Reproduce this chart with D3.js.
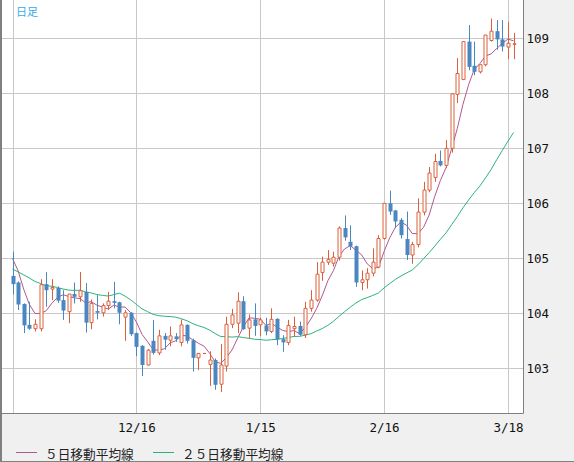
<!DOCTYPE html>
<html><head><meta charset="utf-8">
<script src="https://cdn.jsdelivr.net/npm/d3@7"></script>
<style>body{margin:0;background:#f0f0f0}svg{display:block}</style>
</head><body><svg id="c" width="574" height="462"></svg>
<script>
// Daily OHLC (2020-11-16 .. 2021-03-19, weekdays)
const openV  = [104.68,104.56,104.17,103.79,103.72,103.72,104.53,104.44,104.46,104.24,
                104.03,104.35,104.30,104.39,103.83,104.04,104.01,104.14,104.22,104.20,
                103.93,104.01,103.64,103.41,103.06,103.50,103.28,103.59,103.51,103.58,
                103.47,103.79,103.51,103.19,103.27,103.07,103.15,102.71,103.04,103.80,
                103.82,104.22,103.73,103.89,103.79,103.78,103.67,103.90,103.53,103.47,
                103.72,103.77,103.61,104.09,104.24,104.74,104.93,104.91,105.02,105.55,
                105.30,105.22,104.56,104.61,104.73,104.84,105.36,106.00,105.87,105.70,
                105.35,105.06,105.25,105.84,106.24,106.47,106.77,106.69,107.00,107.98,
                108.25,108.94,108.50,108.39,108.52,108.96,109.13,108.98,108.84,108.89];
const highV  = [105.12,104.58,104.18,104.21,103.89,104.62,104.75,104.62,104.49,104.42,
                104.35,104.56,104.75,104.55,104.25,104.33,104.18,104.39,104.57,104.21,
                104.06,104.02,103.65,103.42,103.35,103.88,103.70,103.64,103.76,103.64,
                103.89,103.80,103.54,103.28,103.27,103.31,103.18,103.44,103.94,104.08,
                104.38,104.31,103.98,104.18,103.92,103.92,104.09,103.91,103.60,103.88,
                103.94,103.85,104.21,104.42,104.93,105.03,105.15,105.12,105.58,105.78,
                105.60,105.23,104.78,104.82,105.18,105.42,106.00,106.23,105.88,105.73,
                105.85,105.30,106.09,106.39,106.66,106.90,106.96,107.15,108.00,108.64,
                108.94,109.24,108.94,108.52,109.06,109.36,109.33,109.33,109.30,109.10];
const lowV   = [104.34,104.06,103.64,103.70,103.67,103.67,104.12,104.24,104.19,103.88,
                103.82,104.18,104.21,103.65,103.71,103.89,103.94,104.06,104.09,103.80,
                103.50,103.59,103.22,102.86,103.05,103.25,103.24,103.34,103.40,103.48,
                103.40,103.45,102.94,102.97,103.27,102.68,102.61,102.57,102.94,103.73,
                103.64,103.70,103.54,103.59,103.59,103.60,103.64,103.42,103.30,103.42,
                103.58,103.59,103.55,104.03,104.21,104.59,104.88,104.85,104.96,105.32,
                105.15,104.48,104.42,104.45,104.67,104.82,105.34,105.79,105.55,105.36,
                104.97,104.90,105.20,105.78,106.20,106.39,106.67,106.64,106.92,107.82,
                108.24,108.42,108.33,108.36,108.49,108.94,108.79,108.76,108.62,108.62];
const closeV = [104.53,104.16,103.78,103.72,103.80,104.52,104.42,104.47,104.23,104.05,
                104.35,104.30,104.41,103.83,104.18,104.01,104.14,104.22,104.19,104.01,
                104.01,103.62,103.39,103.06,103.33,103.28,103.59,103.52,103.59,103.53,
                103.79,103.50,103.19,103.27,103.27,103.15,102.70,103.06,103.80,103.97,
                104.22,103.71,103.88,103.77,103.88,103.67,103.89,103.53,103.47,103.78,
                103.76,103.61,104.09,104.24,104.71,104.93,104.98,105.02,105.55,105.38,
                105.22,104.56,104.61,104.73,104.93,105.36,106.00,105.85,105.67,105.42,
                105.06,105.25,105.84,106.24,106.55,106.76,106.69,107.00,107.99,108.36,
                108.94,108.48,108.39,108.52,109.06,109.13,108.98,108.85,108.91,108.90];
// closes before the first visible candle (estimated from the moving-average lines)
const priorCloses = [105.47,105.14,105.12,105.39,105.43,105.53,104.56,104.88,104.71,104.85,
                     104.43,104.30,104.62,104.66,104.73,104.51,104.53,103.52,103.37,105.37,
                     105.30,105.45,105.10,104.61];
const tickIdx = [0, 22, 44, 66, 88];
const tickLabels = ["", "12/16", "1/15", "2/16", "3/18"];
const yTicks = [103, 104, 105, 106, 107, 108, 109];
const maPeriods = [5, 25];
const maNames = ["５日移動平均線", "２５日移動平均線"];
const titleText = "日足";

const W = 574, H = 462;
const plot = {l: 2, r: 523.5, t: 0, b: 413.5};
const upColor = "#d9603b", downColor = "#4a87c1";
const maColors = ["#b4578c", "#2bb37a"];

const svg = d3.select("#c");
svg.append("rect").attr("x",0).attr("y",0).attr("width",W).attr("height",H).attr("fill","#f0f0f0");
svg.append("rect").attr("x",plot.l).attr("y",plot.t).attr("width",plot.r-plot.l).attr("height",plot.b-plot.t).attr("fill","#fff");

const n = closeV.length;
const x = d3.scaleLinear().domain([0, n-1]).range([12.5, 513.6]);
const y = d3.scaleLinear().domain([103, 109]).range([368.3, 38.3]);

const clip = svg.append("clipPath").attr("id","pc").append("rect")
  .attr("x",plot.l).attr("y",plot.t).attr("width",plot.r-plot.l).attr("height",plot.b-plot.t);

// grid
const g = svg.append("g").attr("clip-path","url(#pc)");
g.selectAll("line.hy").data(yTicks).join("line")
  .attr("x1",plot.l).attr("x2",plot.r)
  .attr("y1",d=>Math.round(y(d))+0.5).attr("y2",d=>Math.round(y(d))+0.5)
  .attr("stroke","#c8c8c8").attr("stroke-width",1);
g.selectAll("line.vx").data(tickIdx).join("line")
  .attr("y1",plot.t).attr("y2",plot.b)
  .attr("x1",d=>Math.round(x(d))+0.5).attr("x2",d=>Math.round(x(d))+0.5)
  .attr("stroke","#c8c8c8").attr("stroke-width",1);

// moving averages
const allC = priorCloses.concat(closeV);
const off = priorCloses.length;
maPeriods.forEach((p, k) => {
  const vals = closeV.map((c, i) => d3.mean(allC.slice(off + i - p + 1, off + i + 1)));
  g.append("path").datum(vals)
    .attr("d", d3.line().x((d,i)=>x(i)).y(d=>y(d)))
    .attr("fill","none").attr("stroke",maColors[k]).attr("stroke-width",1);
});

// candles
const data = closeV.map((c,i)=>({i, o:openV[i], h:highV[i], l:lowV[i], c}));
const bw = 4;
const cg = g.append("g");
data.forEach(d => {
  const cx = Math.round(x(d.i)) + 0.5;
  const up = d.c >= d.o;
  const top = y(Math.max(d.o,d.c)), bot = y(Math.min(d.o,d.c));
  if (up) {
    cg.append("line").attr("x1",cx).attr("x2",cx).attr("y1",y(d.h)).attr("y2",top).attr("stroke",upColor);
    cg.append("line").attr("x1",cx).attr("x2",cx).attr("y1",bot).attr("y2",y(d.l)).attr("stroke",upColor);
    const x0 = cx - 1.5, x1 = cx + 1.5;
    cg.append("path").attr("d",`M${x0},${top}H${x1}V${bot}H${x0}Z`)
      .attr("fill","#fff").attr("stroke",upColor).attr("stroke-width",1);
  } else {
    cg.append("line").attr("x1",cx).attr("x2",cx).attr("y1",y(d.h)).attr("y2",y(d.l)).attr("stroke",downColor);
    cg.append("rect").attr("x",cx-2).attr("y",top).attr("width",bw).attr("height",Math.max(1,bot-top)).attr("fill",downColor);
  }
});

// borders
svg.append("line").attr("x1",plot.r).attr("x2",plot.r).attr("y1",0).attr("y2",plot.b).attr("stroke","#808080");
svg.append("line").attr("x1",plot.l).attr("x2",plot.r).attr("y1",plot.b).attr("y2",plot.b).attr("stroke","#808080");
svg.append("rect").attr("x",0).attr("y",0).attr("width",2).attr("height",H).attr("fill","#808080");
svg.append("line").attr("x1",0).attr("x2",W).attr("y1",H-0.5).attr("y2",H-0.5).attr("stroke","#808080");

// y labels
svg.selectAll("text.yl").data(yTicks).join("text")
  .attr("x",526.5).attr("y",d=>y(d)+0.5).attr("dominant-baseline","central")
  .attr("font-family","DejaVu Sans Mono").attr("font-size","12.5px").attr("fill","#111")
  .text(d=>d);
// x labels
svg.selectAll("text.xl").data(tickIdx).join("text")
  .attr("x",d=>x(d)+0.5).attr("y",427.5).attr("text-anchor","middle").attr("dominant-baseline","central")
  .attr("font-family","DejaVu Sans Mono").attr("font-size","12.5px").attr("fill","#111")
  .text((d,i)=>tickLabels[i]);

// title
svg.append("text").attr("x",16).attr("y",10.5).attr("dominant-baseline","central")
  .attr("font-family","Noto Sans CJK JP").attr("font-size","11px").attr("fill","#36ace2").text(titleText);

// legend
const legX = [16, 153];
maNames.forEach((nm,k)=>{
  svg.append("line").attr("x1",legX[k]).attr("x2",legX[k]+21).attr("y1",452.5).attr("y2",452.5)
    .attr("stroke",maColors[k]).attr("stroke-width",1);
  svg.append("text").attr("x",legX[k]+29).attr("y",453).attr("dominant-baseline","central")
    .attr("font-family","Noto Sans CJK JP").attr("font-size","12.7px").attr("fill","#222").text(nm);
});
</script></body></html>
